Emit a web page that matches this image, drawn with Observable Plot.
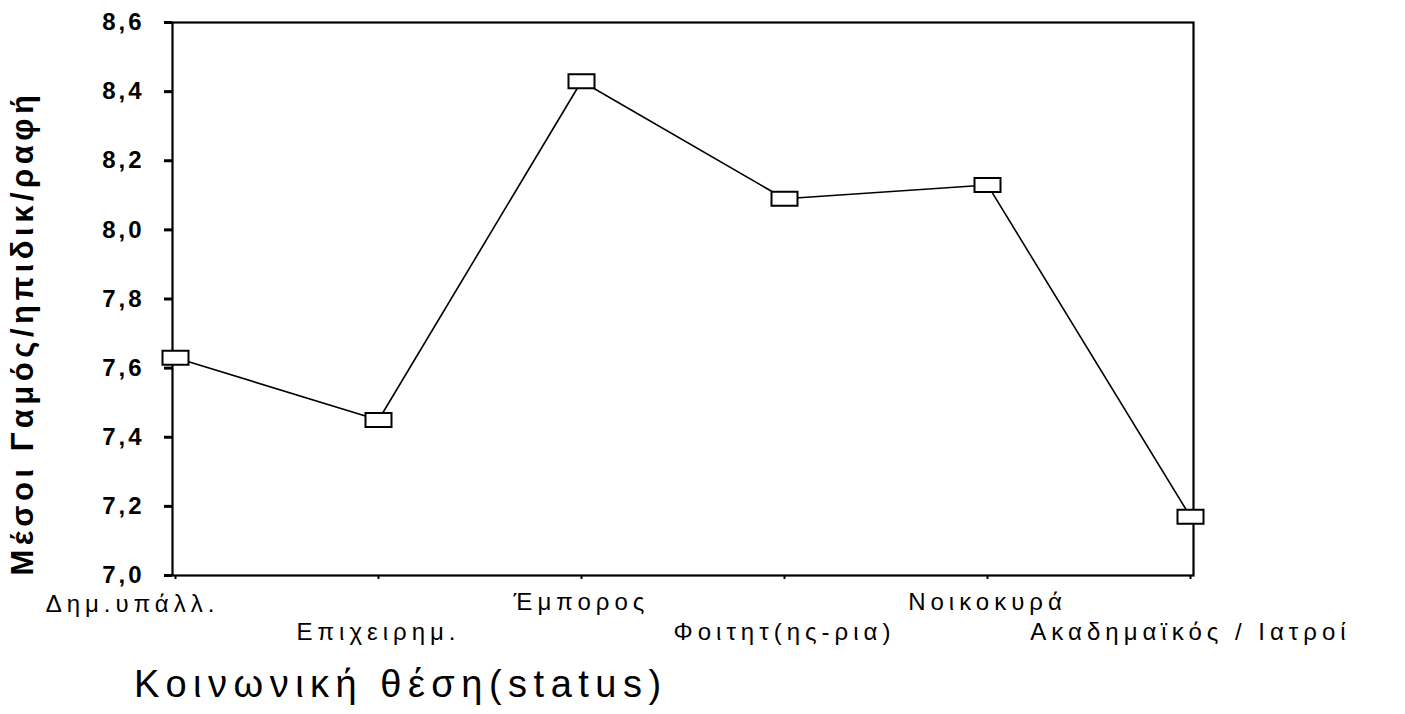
<!DOCTYPE html>
<html>
<head>
<meta charset="utf-8">
<script src="https://cdn.jsdelivr.net/npm/d3@7"></script>
<script src="https://cdn.jsdelivr.net/npm/@observablehq/plot@0.6"></script>
<style>
  html, body { margin: 0; padding: 0; background: #fff; }
  #chart { width: 1405px; }
  #chart svg { font-family: "Liberation Sans", Arial, sans-serif; overflow: visible; }
  g[aria-label="y-axis tick label"] text { font-size: 24px; font-weight: bold; letter-spacing: 3px; }
  g[aria-label="x-axis tick label"] text { font-size: 24px; letter-spacing: 5px; }
  g[aria-label="text"] text { letter-spacing: 4.5px; }
  #xtitle { font-family: "Liberation Sans", Arial, sans-serif; font-size: 38px; letter-spacing: 6.5px;
            padding-left: 134px; margin-top: 8px; color: #000; }
</style>
</head>
<body>
<div id="chart"></div>
<div id="xtitle">Κοινωνική θέση(status)</div>
<script>
const categories = ["Δημ.υπάλλ.", "Επιχειρημ.", "Έμπορος", "Φοιτητ(ης-ρια)", "Νοικοκυρά", "Ακαδημαϊκός / Ιατροί"];
const values = [7.63, 7.45, 8.43, 8.09, 8.13, 7.17];
const yTicks = [7.0, 7.2, 7.4, 7.6, 7.8, 8.0, 8.2, 8.4, 8.6];
const yLabel = "Μέσοι Γαμός/ηπιδικ/ραφή";

const data = categories.map((c, i) => ({cat: c, val: values[i]}));
const fmt = d => d3.format(".1f")(d).replace(".", ",");

const rectSymbol = {
  draw(ctx, size) {
    ctx.moveTo(-13, -7);
    ctx.lineTo(13, -7);
    ctx.lineTo(13, 7);
    ctx.lineTo(-13, 7);
    ctx.closePath();
  }
};

const chart = Plot.plot({
  width: 1405,
  height: 655,
  marginLeft: 172,
  marginRight: 212,
  marginTop: 22,
  marginBottom: 80,
  style: {fontSize: "22px", color: "#000", background: "#fff"},
  x: {type: "point", domain: categories, padding: 0, insetLeft: 3, insetRight: 3},
  y: {domain: [7.0, 8.6]},
  marks: [
    Plot.frame({stroke: "#000", strokeWidth: 2.2}),
    Plot.axisY({ticks: yTicks, tickFormat: fmt, tickSize: 8, tickPadding: 20, strokeWidth: 3, label: null}),
    Plot.text([yLabel], {frameAnchor: "bottom-left", rotate: -90, textAnchor: "start", dx: -140,
                         fontSize: 31, fontWeight: "bold"}),
    Plot.axisX({ticks: categories, tickSize: 4, tickFormat: () => "", label: null, strokeWidth: 2}),
    Plot.axisX({ticks: [categories[0]], tickSize: 0, tickPadding: 19, dx: -43, label: null}),
    Plot.axisX({ticks: [categories[2], categories[4]], tickSize: 0, tickPadding: 17, label: null}),
    Plot.axisX({ticks: [categories[1], categories[3], categories[5]], tickSize: 0, tickPadding: 47, label: null}),
    Plot.line(data, {x: "cat", y: "val", stroke: "#000", strokeWidth: 1.6}),
    Plot.dot(data, {x: "cat", y: "val", symbol: rectSymbol, r: 5, fill: "#fff", stroke: "#000", strokeWidth: 2})
  ]
});
document.getElementById("chart").appendChild(chart);
</script>
</body>
</html>
